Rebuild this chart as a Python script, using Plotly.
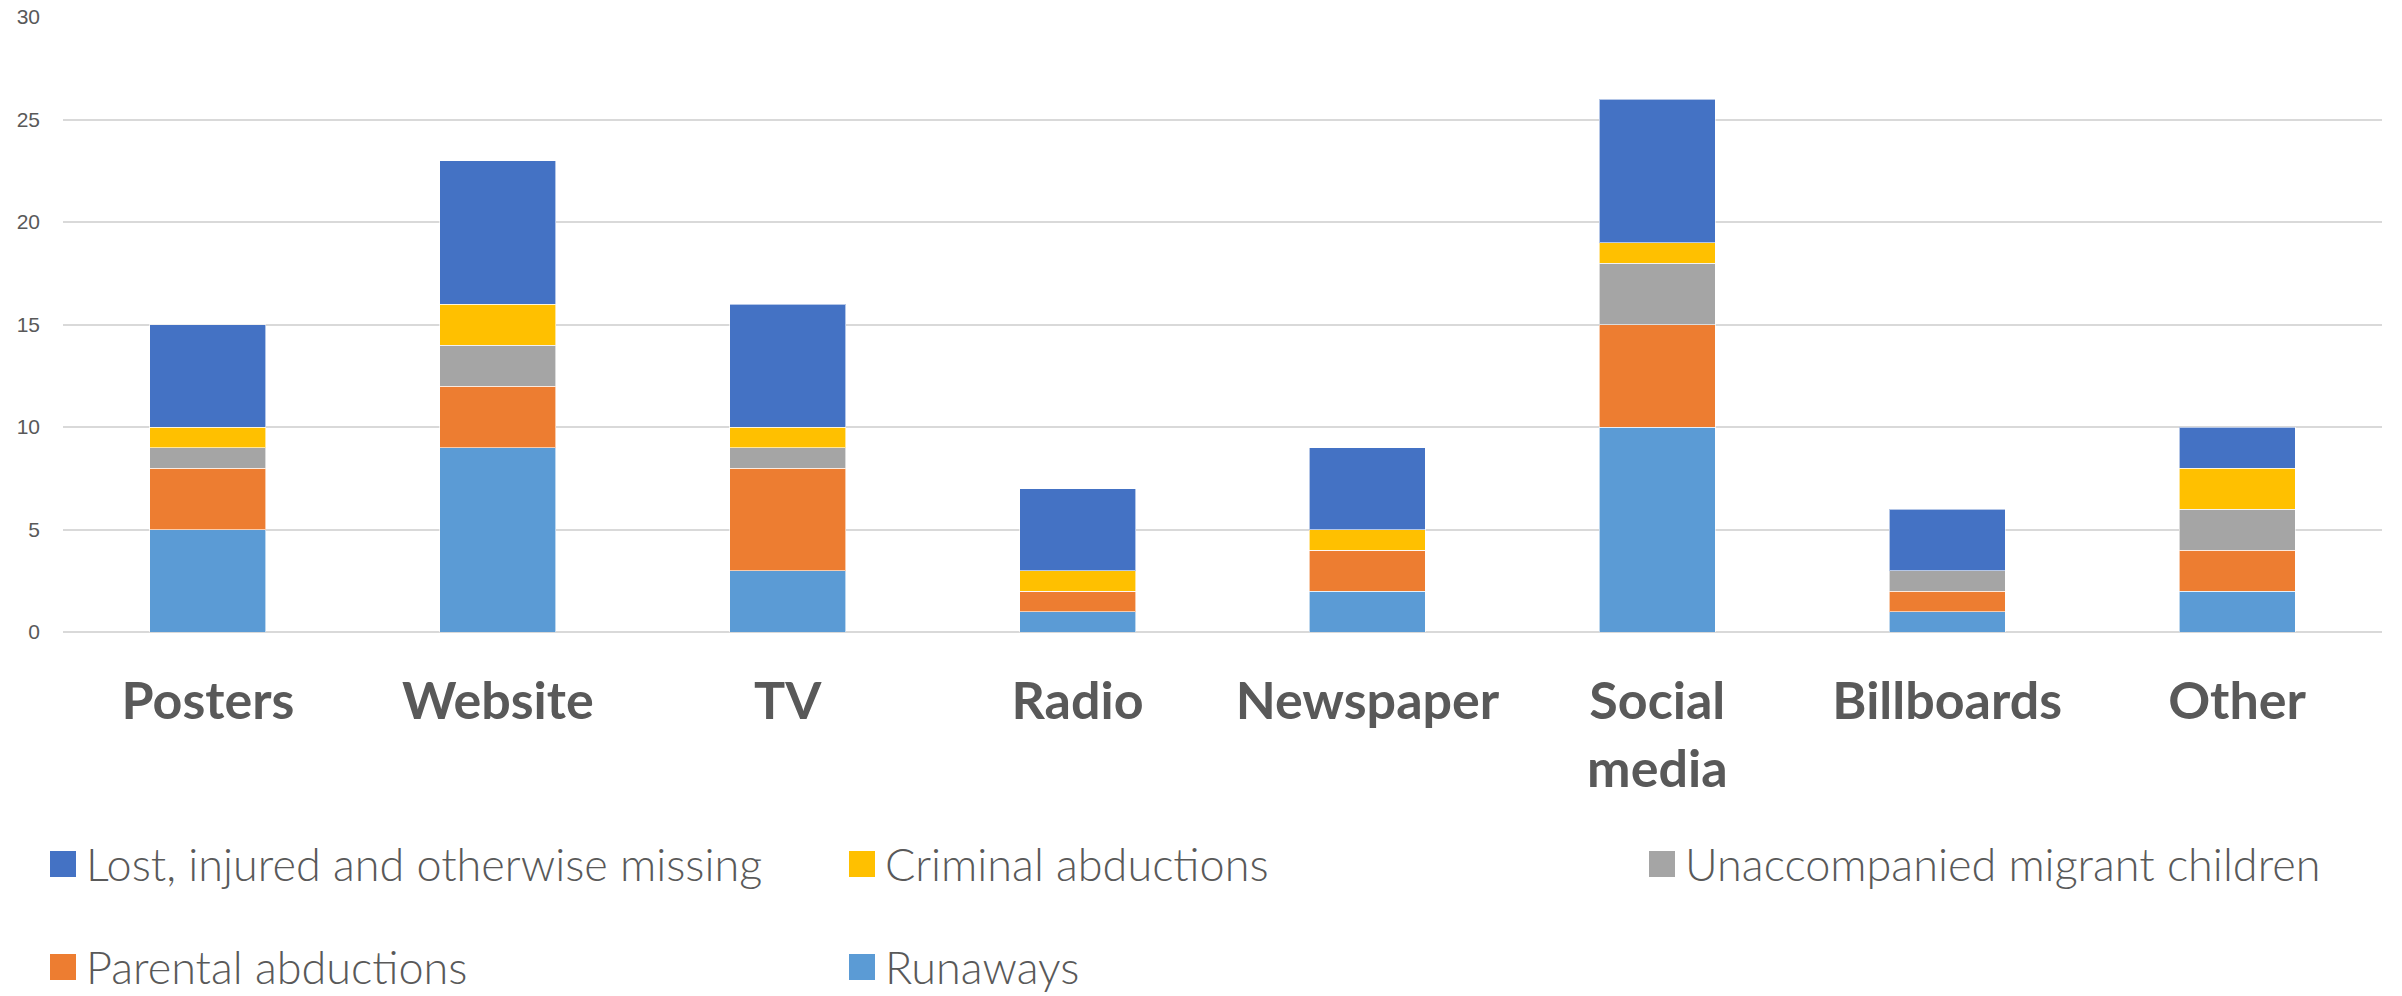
import plotly.graph_objects as go

# Campaign channels and counts per category of missing child case
channels = ["Posters", "Website", "TV", "Radio", "Newspaper", "Social<br>media", "Billboards", "Other"]

runaways = [5, 9, 3, 1, 2, 10, 1, 2]
parental_abductions = [3, 3, 5, 1, 2, 5, 1, 2]
unaccompanied_migrant = [1, 2, 1, 0, 0, 3, 1, 2]
criminal_abductions = [1, 2, 1, 1, 1, 1, 0, 2]
lost_injured_missing = [5, 7, 6, 4, 4, 7, 3, 2]

y_ticks = [0, 5, 10, 15, 20, 25, 30]

# stacking order bottom -> top
series = [
    ("Runaways", runaways, "#5B9BD5"),
    ("Parental abductions", parental_abductions, "#ED7D31"),
    ("Unaccompanied migrant children", unaccompanied_migrant, "#A5A5A5"),
    ("Criminal abductions", criminal_abductions, "#FFC000"),
    ("Lost, injured and otherwise missing", lost_injured_missing, "#4472C4"),
]

# legend layout (reading order, two rows)
legend_order = [
    "Lost, injured and otherwise missing",
    "Criminal abductions",
    "Unaccompanied migrant children",
    "Parental abductions",
    "Runaways",
]

W, H = 2402, 996
ML, MR, MT, MB = 63, 20, 17, 364
PW, PH = W - ML - MR, H - MT - MB

TEXT = "#595959"
FONT = "Lato"

fig = go.Figure()
for name, vals, color in series:
    fig.add_trace(go.Bar(
        x=channels, y=vals, name=name,
        marker=dict(color=color, line=dict(color="rgba(255,255,255,0.6)", width=1)),
        showlegend=False,
    ))


def px_to_paper(px, py):
    return (px - ML) / PW, (H - MB - py) / PH


color_of = {n: c for n, _, c in series}
col_x = [50, 849, 1649]
row_y = [864, 967]
sw = 26
shapes, annos = [], []
for i, name in enumerate(legend_order):
    cx = col_x[i % 3]
    cy = row_y[i // 3]
    x0, y0 = px_to_paper(cx, cy + sw / 2)
    x1, y1 = px_to_paper(cx + sw, cy - sw / 2)
    shapes.append(dict(type="rect", xref="paper", yref="paper", x0=x0, x1=x1, y0=y0, y1=y1,
                       fillcolor=color_of[name], line=dict(width=0)))
    tx, ty = px_to_paper(cx + sw + 9, cy)
    annos.append(dict(xref="paper", yref="paper", x=tx, y=ty, xanchor="left", yanchor="middle",
                      text=name, showarrow=False, borderpad=0,
                      font=dict(family=FONT, size=45, color=TEXT, weight=300)))

fig.update_layout(
    barmode="stack",
    bargap=0.6,
    width=W, height=H,
    margin=dict(l=ML, r=MR, t=MT, b=MB),
    plot_bgcolor="white", paper_bgcolor="white",
    shapes=shapes, annotations=annos,
    xaxis=dict(
        showgrid=False, showline=False, ticks="", automargin=False,
        tickfont=dict(family=FONT, size=52, color=TEXT, weight="bold"),
        ticklabelstandoff=34,
    ),
    yaxis=dict(
        range=[0, 30], tickvals=y_ticks, automargin=False,
        showgrid=True, gridcolor="#D9D9D9", gridwidth=2,
        zeroline=True, zerolinecolor="#D9D9D9", zerolinewidth=2,
        showline=False, ticks="",
        tickfont=dict(family="Liberation Sans", size=21, color=TEXT),
        ticklabelstandoff=22,
    ),
)

fig.write_html("out.html")
